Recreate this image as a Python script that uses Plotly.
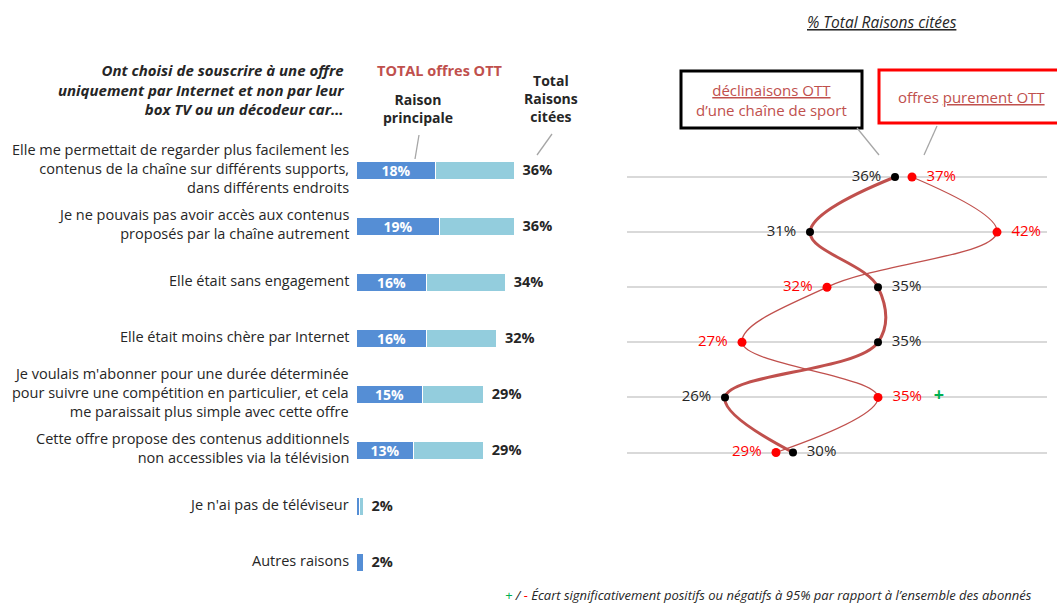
import plotly.graph_objects as go

W, H = 1057, 603

# ---------------- data ----------------
categories = [
    "Elle me permettait de regarder plus facilement les<br>contenus de la chaîne sur différents supports,<br>dans différents endroits",
    "Je ne pouvais pas avoir accès aux contenus<br>proposés par la chaîne autrement",
    "Elle était sans engagement",
    "Elle était moins chère par Internet",
    "Je voulais m'abonner pour une durée déterminée<br>pour suivre une compétition en particulier, et cela<br>me paraissait plus simple avec cette offre",
    "Cette offre propose des contenus additionnels<br>non accessibles via la télévision",
    "Je n'ai pas de téléviseur",
    "Autres raisons",
]
raison_principale = [18, 19, 16, 16, 15, 13, 0.6, 1.6]
total_citees = [36, 36, 34, 32, 29, 29, 1.6, 1.6]

ott_sport = [36, 31, 35, 35, 26, 30]        # déclinaisons OTT d'une chaîne de sport
ott_pure = [37, 42, 32, 27, 35, 29]         # offres purement OTT
ott_pure_sig = ["", "", "", "", "+", ""]

# ---------------- styles ----------------
FONT = "Open Sans"
DARK = "#262626"
BROWN = "#c0504d"
BLUE = "#558ed5"
LIGHT = "#93cddd"

def px(x):
    return x / W

def py(y):
    return 1 - y / H

rows = list(range(len(categories)))
rows_r = list(range(len(ott_sport)))

fig = go.Figure()

# left stacked bars
rest = [t - p for t, p in zip(total_citees, raison_principale)]
inside = [f"{p:.0f}%" if p >= 5 else "" for p in raison_principale]
fig.add_trace(go.Bar(
    x=raison_principale, y=rows, orientation="h", width=0.32,
    marker=dict(color=BLUE, line=dict(color="white", width=1)),
    text=inside, textposition="inside", insidetextanchor="middle", constraintext="none",
    textfont=dict(color="white", family=FONT, size=14, weight="bold"),
    xaxis="x", yaxis="y", showlegend=False, hoverinfo="skip",
))
fig.add_trace(go.Bar(
    x=rest, y=rows, orientation="h", width=0.32,
    marker=dict(color=LIGHT, line=dict(color="white", width=1)),
    xaxis="x", yaxis="y", showlegend=False, hoverinfo="skip",
))
# total labels
fig.add_trace(go.Scatter(
    x=total_citees, y=rows, mode="text",
    text=[f"&nbsp;&nbsp;{round(t):.0f}%" for t in total_citees],
    textposition="middle right",
    textfont=dict(color=DARK, family=FONT, size=14.5, weight="bold"),
    xaxis="x", yaxis="y", showlegend=False, hoverinfo="skip", cliponaxis=False,
))

# right chart: spline lines
fig.add_trace(go.Scatter(
    x=ott_pure, y=rows_r, mode="lines", line=dict(color=BROWN, width=1.3, shape="spline", smoothing=1.1),
    xaxis="x2", yaxis="y2", showlegend=False, hoverinfo="skip",
))
fig.add_trace(go.Scatter(
    x=ott_sport, y=rows_r, mode="lines", line=dict(color=BROWN, width=3, shape="spline", smoothing=1.1),
    xaxis="x2", yaxis="y2", showlegend=False, hoverinfo="skip",
))

pos_sport = ["middle left" if s < p else "middle right" for s, p in zip(ott_sport, ott_pure)]
pos_pure = ["middle right" if s < p else "middle left" for s, p in zip(ott_sport, ott_pure)]

def lbl(v, pos, sig=""):
    t = f"{v}%"
    if pos == "middle right":
        t = "&nbsp;&nbsp;" + t
        if sig:
            t += f"&nbsp;&nbsp;&nbsp;<span style='color:#00b050;font-size:18px'><b>{sig}</b></span>"
    else:
        t = t + "&nbsp;&nbsp;"
    return t

fig.add_trace(go.Scatter(
    x=ott_sport, y=rows_r, mode="markers+text",
    marker=dict(color="black", size=8),
    text=[lbl(v, p) for v, p in zip(ott_sport, pos_sport)], textposition=pos_sport,
    textfont=dict(color=DARK, family=FONT, size=15),
    xaxis="x2", yaxis="y2", showlegend=False, hoverinfo="skip", cliponaxis=False,
))
fig.add_trace(go.Scatter(
    x=ott_pure, y=rows_r, mode="markers+text",
    marker=dict(color="#ff0000", size=9),
    text=[lbl(v, p, s) for v, p, s in zip(ott_pure, pos_pure, ott_pure_sig)], textposition=pos_pure,
    textfont=dict(color="#ff0000", family=FONT, size=15),
    xaxis="x2", yaxis="y2", showlegend=False, hoverinfo="skip", cliponaxis=False,
))

# ---------------- axes ----------------
sc_left = 4.39       # px per %
x0_left = 357
x1_left = 600
fig.update_layout(
    xaxis=dict(domain=[px(x0_left), px(x1_left)], range=[0, (x1_left - x0_left) / sc_left],
               visible=False, fixedrange=True),
    yaxis=dict(domain=[0, 1], range=[(H - 171) / 56, -171 / 56], visible=False),
    xaxis2=dict(domain=[px(627), px(1047)], range=[36 - (895 - 627) / 17, 36 + (1047 - 895) / 17],
                visible=False),
    yaxis2=dict(domain=[0, 1], range=[(H - 177) / 55.1, -177 / 55.1], anchor="x2",
                tickvals=rows_r, showgrid=True, gridcolor="#d9d9d9", gridwidth=1.5,
                showticklabels=False, zeroline=False, showline=False, ticks=""),
    barmode="stack",
    bargap=0,
    width=W, height=H,
    margin=dict(l=0, r=0, t=0, b=0),
    plot_bgcolor="white", paper_bgcolor="white",
    font=dict(family=FONT, color=DARK),
)

ann = []
# category labels
for i, c in enumerate(categories):
    ann.append(dict(x=px(351), y=py(168 + 56 * i), text=c,
                    xanchor="right", yanchor="middle", align="right",
                    font=dict(family=FONT, size=14.5, color=DARK)))

def lines(texts, x, ys, xanchor, size, color, fmt="{}"):
    for t, y in zip(texts, ys):
        ann.append(dict(x=px(x), y=py(y), text=fmt.format(t), xanchor=xanchor, yanchor="middle",
                        font=dict(family=FONT, size=size, color=color)))

ann.append(dict(x=px(346), y=py(90),
                text="<b><i>Ont choisi de souscrire à une offre<br>uniquement par Internet et non par leur<br>box TV ou un décodeur car…</i></b>",
                xanchor="right", yanchor="middle", align="right",
                font=dict(family=FONT, size=15, color=DARK)))
lines(["TOTAL offres OTT"], 440, [70], "center", 14.5, BROWN, "<b>{}</b>")
ann.append(dict(x=px(418), y=py(108.5), text="<b>Raison<br>principale</b>", xanchor="center",
                yanchor="middle", align="center", font=dict(family=FONT, size=14, color=DARK)))
ann.append(dict(x=px(551), y=py(98), text="<b>Total<br>Raisons<br>citées</b>", xanchor="center",
                yanchor="middle", align="center", font=dict(family=FONT, size=14, color=DARK)))
lines(["% Total Raisons citées"], 882, [22], "center", 15.5, DARK, "<i><u>{}</u></i>")
ann.append(dict(x=px(771), y=py(100.5), text="<u>déclinaisons OTT</u><br>d’une chaîne de sport",
                xanchor="center", yanchor="middle", align="center",
                font=dict(family=FONT, size=15, color=BROWN)))
lines(["offres <u>purement OTT</u>"], 971, [97], "center", 15, BROWN)
ann.append(dict(x=px(503), y=py(595),
                text="<i><span style='color:#00b050'>+</span> / <span style='color:#ff0000'>-</span> Écart significativement positifs ou négatifs à 95% par rapport à l’ensemble des abonnés</i>",
                xanchor="left", yanchor="middle", font=dict(size=13, color=DARK, family=FONT)))
for a in ann:
    a["xref"] = "paper"
    a["yref"] = "paper"
    a["showarrow"] = False
fig.update_layout(annotations=ann)

shapes = [
    dict(type="rect", x0=px(681), x1=px(862), y0=py(71), y1=py(128), line=dict(color="black", width=3)),
    dict(type="rect", x0=px(879), x1=px(1062), y0=py(70), y1=py(123), line=dict(color="#ff0000", width=3)),
    dict(type="line", x0=px(857), y0=py(128), x1=px(879), y1=py(155), line=dict(color="#a6a6a6", width=1.3)),
    dict(type="line", x0=px(937), y0=py(126), x1=px(924), y1=py(155), line=dict(color="#a6a6a6", width=1.3)),
    dict(type="line", x0=px(419), y0=py(135), x1=px(415), y1=py(159), line=dict(color="#a6a6a6", width=1.3)),
    dict(type="line", x0=px(552), y0=py(134), x1=px(537), y1=py(155), line=dict(color="#a6a6a6", width=1.3)),
]
for s in shapes:
    s["xref"] = "paper"
    s["yref"] = "paper"
fig.update_layout(shapes=shapes)

fig.write_html("out.html", config={"displayModeBar": False},
               post_script="document.body.style.margin='0';document.body.style.padding='0';")
